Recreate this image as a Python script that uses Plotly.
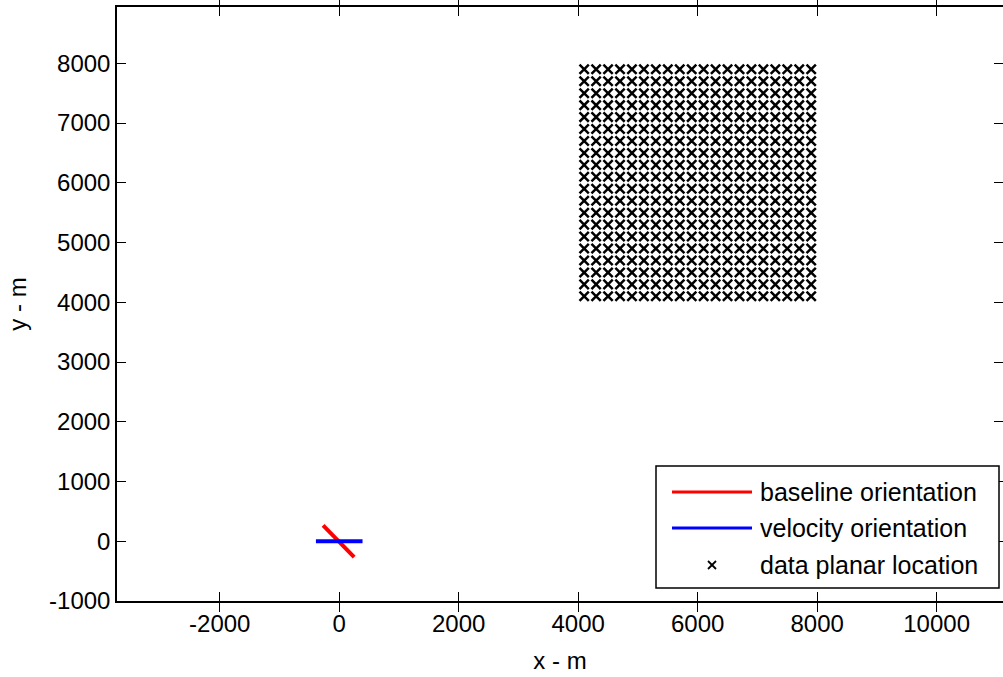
import numpy as np
import plotly.graph_objects as go

# Planar grid of data locations (m)
grid_x = [4100, 4300, 4500, 4700, 4900, 5100, 5300, 5500, 5700, 5900,
          6100, 6300, 6500, 6700, 6900, 7100, 7300, 7500, 7700, 7900]
grid_y = [4100, 4300, 4500, 4700, 4900, 5100, 5300, 5500, 5700, 5900,
          6100, 6300, 6500, 6700, 6900, 7100, 7300, 7500, 7700, 7900]

# Baseline and velocity orientation segments (m)
baseline_x = [-270, 250]
baseline_y = [265, -265]
velocity_x = [-390, 390]
velocity_y = [0, 0]

x_ticks = [-2000, 0, 2000, 4000, 6000, 8000, 10000]
y_ticks = [-1000, 0, 1000, 2000, 3000, 4000, 5000, 6000, 7000, 8000]
legend_labels = ["baseline orientation", "velocity orientation", "data planar location"]

W, H = 1003, 677
L, R, T, B = 117, 0, 7, 76
FONT = dict(family="Liberation Sans, Arial, sans-serif", size=24, color="black")
LEG_FONT = dict(family="Liberation Sans, Arial, sans-serif", size=25, color="black")

gx, gy = np.meshgrid(grid_x, grid_y)

fig = go.Figure()
fig.add_trace(go.Scatter(x=baseline_x, y=baseline_y, mode="lines",
                         line=dict(color="#ff0000", width=4), showlegend=False))
fig.add_trace(go.Scatter(x=velocity_x, y=velocity_y, mode="lines",
                         line=dict(color="#0000ff", width=4), showlegend=False))
fig.add_trace(go.Scatter(x=gx.ravel(), y=gy.ravel(), mode="markers",
                         marker=dict(symbol="x-thin", size=9.3, color="black",
                                     line=dict(color="black", width=2.5)),
                         showlegend=False))
# invisible companion trace so the right-hand tick axis is drawn
fig.add_trace(go.Scatter(x=[0], y=[0], yaxis="y2", mode="markers",
                         marker=dict(opacity=0), showlegend=False, hoverinfo="skip"))

pw, ph = W - L - R, H - T - B


def px(xp):
    return (xp - L) / pw


def py(yp):
    return (H - B - yp) / ph


shapes = []
annotations = []
# legend frame
shapes.append(dict(type="rect", xref="paper", yref="paper",
                   x0=px(656), x1=px(999), y0=py(588), y1=py(466),
                   line=dict(color="black", width=1.5), fillcolor="white", layer="above"))
rows = [492, 528, 565]
colors = ["#ff0000", "#0000ff", None]
for label, yr, c in zip(legend_labels, rows, colors):
    if c:
        shapes.append(dict(type="line", xref="paper", yref="paper",
                           x0=px(672), x1=px(752), y0=py(yr), y1=py(yr),
                           line=dict(color=c, width=3), layer="above"))
    else:
        for dy in (-4, 4):
            shapes.append(dict(type="line", xref="paper", yref="paper",
                               x0=px(708), x1=px(716), y0=py(yr - dy), y1=py(yr + dy),
                               line=dict(color="black", width=1.8), layer="above"))
    annotations.append(dict(text=label, xref="paper", yref="paper",
                            x=px(758), y=py(yr), xanchor="left", yanchor="middle",
                            showarrow=False, font=LEG_FONT))

tick_style = dict(ticks="inside", ticklen=9, tickwidth=1.3, tickcolor="black",
                  showgrid=False, zeroline=False, tickfont=FONT)

fig.update_layout(
    width=W, height=H,
    margin=dict(l=L, r=R, t=T, b=B),
    plot_bgcolor="white", paper_bgcolor="white",
    showlegend=False,
    shapes=shapes, annotations=annotations,
    xaxis=dict(range=[-3720, 11111], tickvals=x_ticks,
               ticktext=[str(v) for v in x_ticks],
               showline=True, linecolor="black", linewidth=1.5, mirror="allticks",
               title=dict(text="x - m", font=FONT, standoff=17), **tick_style),
    yaxis=dict(range=[-1000, 8943], tickvals=y_ticks,
               ticktext=[str(v) for v in y_ticks],
               showline=True, linecolor="black", linewidth=1.5, mirror=False,
               title=dict(text="y - m", font=FONT, standoff=16), **tick_style),
    yaxis2=dict(range=[-1000, 8943], tickvals=y_ticks, overlaying="y", side="right",
                showline=False, showticklabels=False, **tick_style),
)

fig.write_html("out.html")
